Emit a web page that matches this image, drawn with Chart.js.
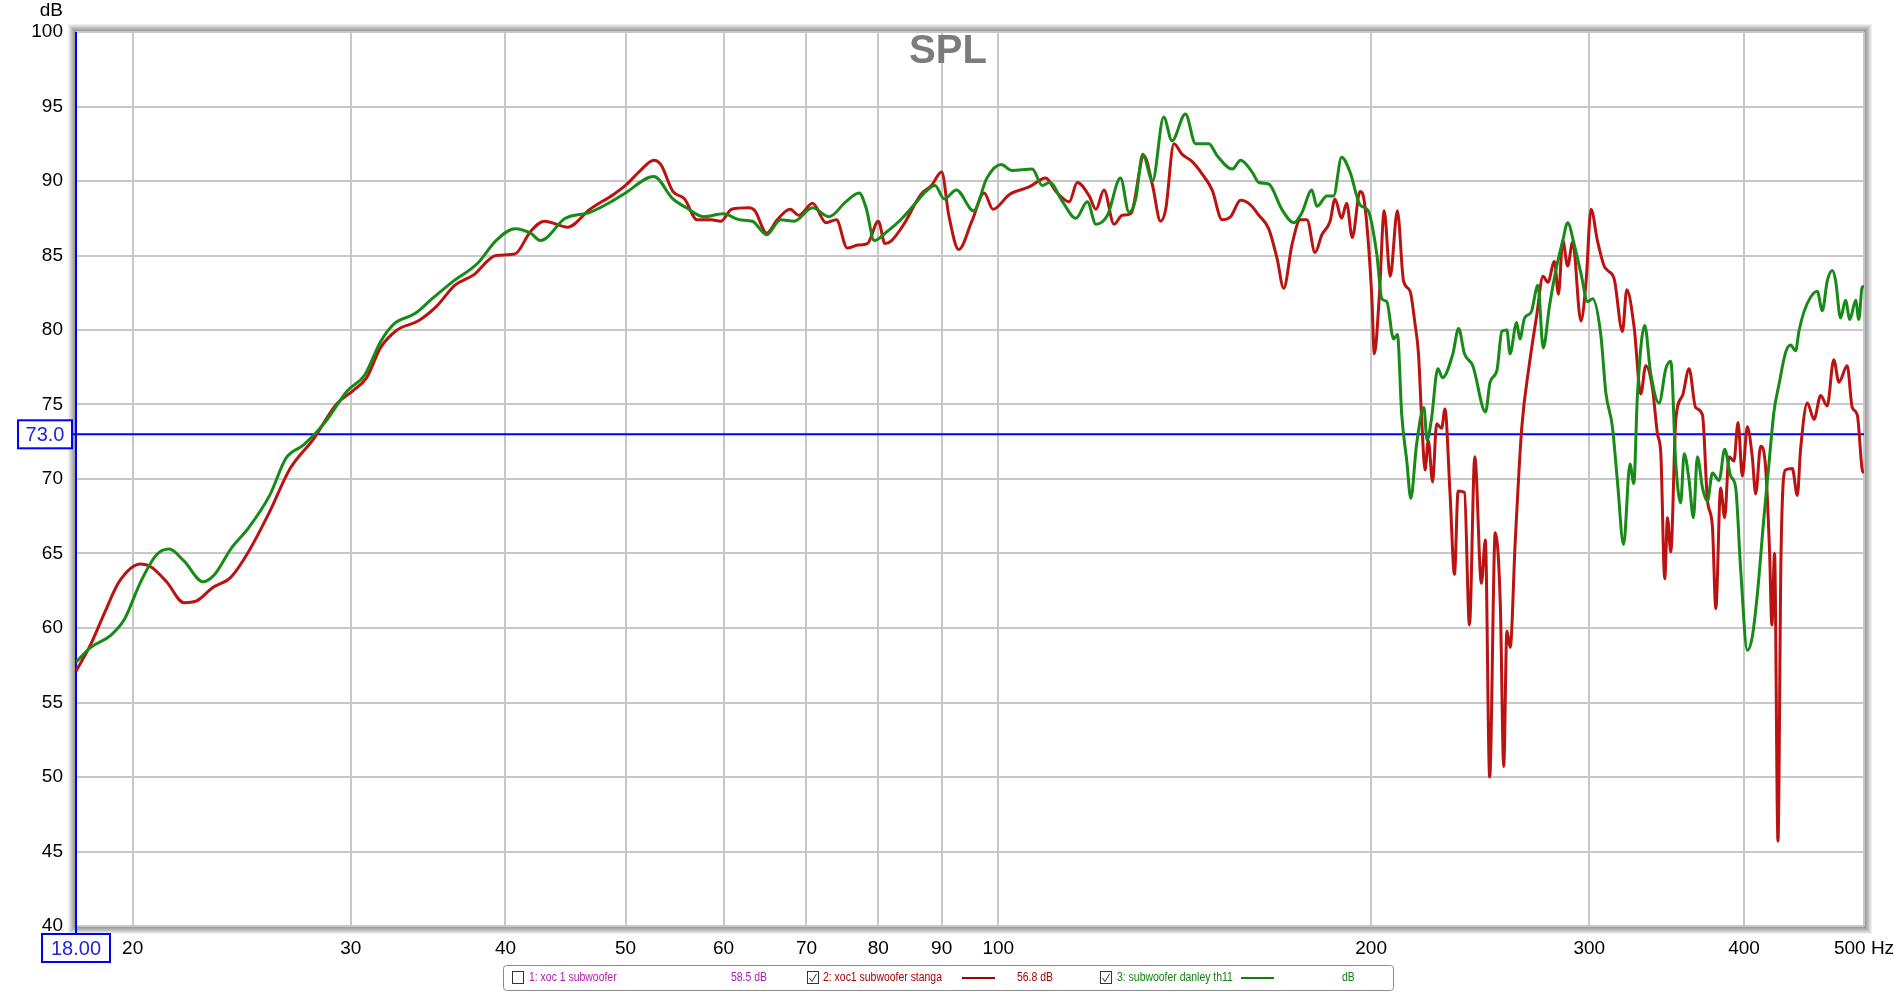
<!DOCTYPE html>
<html>
<head>
<meta charset="utf-8">
<script src="https://cdn.jsdelivr.net/npm/chart.js@4.4.1/dist/chart.umd.min.js"></script>
<style>
  html, body { margin: 0; padding: 0; background: #fff; }
  #wrap { width: 1899px; height: 992px; position: relative; }
</style>
</head>
<body>
<div id="wrap"><canvas id="spl" width="1899" height="992"></canvas></div>
<script>
// axis ticks
const xTicks = [20, 30, 40, 50, 60, 70, 80, 90, 100, 200, 300, 400, 500];
const yMin = 40, yMax = 100, yStep = 5;

// cursor readout
const cursorFreq = 18;
const cursorDb = 73;

// 2: xoc1 subwoofer stanga (red)
const redFreq = [18, 18.5, 19, 19.5, 20.3, 20.7, 21.3, 22, 22.5, 23.2, 24, 24.8, 25.8, 26.8, 28, 29.2, 30.1, 30.9, 31.7, 32.7,
  34, 35.2, 36.4, 37.7, 39.3, 40.7, 41.9, 43, 44.9, 46.8, 48.9, 50, 51.4, 52.7, 53.4, 54.6, 55.8, 57.1, 58.6, 59.7,
  60.9, 62.9, 63.6, 65, 66.3, 67.9, 69, 70.8, 72.6, 74, 75.5, 77, 78.4, 80, 81, 82, 83.9, 86.6, 88.3, 90,
  91.2, 92.9, 95.2, 97.4, 99, 102.1, 105.9, 109.2, 111.3, 114.1, 115.8, 118.4, 119.9, 121.7, 124, 125.9, 127.9, 131.1, 133.2, 135.2,
  136.5, 138.6, 140.7, 143.4, 146, 148.8, 151.6, 154, 156.9, 159.8, 162.3, 165.3, 167.9, 170, 172.6, 175.3, 177.5, 180.2, 182.5, 185.3,
  187, 189.3, 191.1, 193.1, 195.9, 197.5, 200.2, 201.2, 203.1, 204.9, 207.2, 210, 212.4, 215, 217, 218.4, 219.7, 221.1, 222.4, 224.2,
  225.9, 228, 229.4, 231.6, 233.5, 235.1, 237.9, 240.1, 242.5, 245.5, 247.3, 249.3, 251.9, 254.3, 255.9, 257.4, 259, 261.4, 264.6, 268.6,
  272, 275.3, 277.8, 281.2, 283.3, 285.6, 288.2, 290.9, 295.4, 298.2, 301, 304.6, 308.4, 310.4, 314.3, 319.1, 321.7, 326.1, 330.2, 333.2,
  337.4, 340.6, 342.7, 345.2, 347, 349.1, 352.4, 356.8, 361.2, 365.6, 370.3, 373.7, 377.2, 379.6, 383, 385.9, 389, 392.6, 395.6, 398.8,
  402.5, 406.2, 408.8, 412.6, 416.4, 419.5, 421.3, 423.4, 426.1, 428.5, 432, 437.6, 441.7, 444.4, 450, 455.6, 461.3, 466.9, 472.7, 477.2,
  484.6, 489.2, 493.8, 498.4, 500];
const redDb = [57.1, 58.9, 61.1, 63.1, 64.3, 64.1, 63.1, 61.7, 61.8, 62.7, 63.4, 65.1, 67.8, 70.7, 72.7, 75.0, 75.9, 76.8, 78.8, 80.0,
  80.6, 81.6, 83.0, 83.7, 85.0, 85.1, 86.6, 87.3, 86.9, 88.1, 89.1, 89.7, 90.7, 91.4, 91.1, 89.3, 88.8, 87.4, 87.4, 87.3,
  88.1, 88.2, 88.0, 86.5, 87.4, 88.1, 87.7, 88.5, 87.2, 87.4, 85.5, 85.7, 85.8, 87.3, 85.8, 86.0, 87.1, 89.1, 89.7, 90.6,
  87.7, 85.4, 87.3, 89.2, 88.1, 89.1, 89.6, 90.2, 89.3, 88.6, 89.9, 89.0, 88.1, 89.4, 87.1, 87.7, 87.8, 91.7, 89.7, 87.3,
  88.1, 92.5, 91.8, 91.3, 90.5, 89.4, 87.4, 87.6, 88.7, 88.4, 87.7, 86.8, 84.8, 82.8, 85.7, 87.4, 87.4, 85.2, 86.4, 87.3,
  88.8, 87.5, 88.5, 86.2, 89.3, 88.6, 82.4, 78.4, 82.4, 88.0, 83.6, 88.0, 83.3, 82.6, 80.4, 78.4, 74.0, 70.6, 72.6, 69.8,
  73.7, 73.4, 74.7, 69.0, 63.6, 69.2, 69.1, 60.2, 71.5, 63.0, 65.9, 50.0, 66.4, 61.5, 50.7, 59.8, 58.7, 65.7, 73.4, 77.9,
  80.9, 83.6, 83.2, 84.6, 82.4, 86.0, 84.3, 85.9, 80.6, 83.2, 88.1, 86.0, 84.3, 84.0, 83.4, 79.9, 82.7, 80.2, 75.7, 77.6,
  76.1, 73.0, 71.7, 63.3, 67.4, 65.1, 74.0, 75.6, 77.4, 74.8, 74.3, 68.6, 66.8, 61.3, 69.4, 67.4, 71.5, 71.2, 73.8, 70.2,
  73.5, 71.5, 69.0, 72.2, 70.8, 65.1, 60.2, 65.0, 45.7, 64.8, 70.6, 70.7, 68.9, 72.0, 75.1, 74.0, 75.6, 74.9, 78.0, 76.5,
  77.6, 74.8, 74.3, 70.6, 70.4];

// 3: subwoofer danley th11 (green)
const greenFreq = [18, 18.5, 19.2, 19.7, 20.3, 20.9, 21.4, 22, 22.8, 23.3, 24, 24.8, 25.8, 26.6, 27.5, 28.6, 29.8, 30.8, 31.7, 32.5,
  33.8, 34.9, 36.2, 38, 39.3, 40.7, 41.9, 42.7, 44.7, 46.8, 48.9, 50, 52.7, 54.6, 56, 57.8, 60, 61.8, 63.3, 65,
  66.7, 68.4, 70.8, 73, 75.3, 77.2, 78.2, 79.4, 81.3, 83.4, 85.5, 87.4, 88.9, 90.4, 92.5, 95.5, 97.9, 100.5, 102.6, 106.5,
  108.5, 110, 112.7, 115.5, 118, 119.9, 122.5, 125.5, 127.5, 129.1, 130.8, 133.2, 136, 138.1, 141.6, 144.3, 147.9, 150.2, 154.5, 156.9,
  160.3, 162.3, 165.3, 169.4, 173.2, 175.9, 179.1, 180.8, 184.2, 186.5, 189.3, 192.3, 195.9, 198.9, 202.1, 204, 205.9, 208.5, 210, 211.7,
  213.7, 215.3, 217.6, 220.6, 221.9, 223.7, 226.4, 228.4, 232.8, 235.3, 237.9, 241.6, 247.4, 249.5, 252.7, 255, 257.4, 258.9, 262.1, 263.7,
  266, 269.3, 272.7, 275.4, 278.6, 282.1, 285.6, 288.2, 291.8, 295.4, 299.1, 301.9, 306.5, 309.4, 313.2, 316.1, 319.8, 323.6, 325.9, 328.1,
  332.6, 336.3, 341.6, 345.9, 349.1, 352.4, 355.6, 357.9, 361.2, 364.1, 366.8, 370.3, 373.7, 377.2, 381.9, 385.9, 390.2, 393.9, 397.5, 402.5,
  406.2, 410, 415.1, 419, 422.9, 426.8, 432.2, 436.2, 440.3, 443, 447.1, 452.7, 458.4, 462.7, 467, 471.4, 474.3, 478.7, 483.1, 487,
  492.3, 495.2, 498.4, 500];
const greenDb = [57.7, 58.7, 59.5, 60.6, 63.1, 64.9, 65.3, 64.5, 63.1, 63.6, 65.3, 66.7, 68.9, 71.4, 72.3, 73.8, 75.9, 77.0, 79.2, 80.4,
  81.1, 82.1, 83.2, 84.5, 86.0, 86.8, 86.5, 86.0, 87.5, 87.9, 88.7, 89.2, 90.3, 88.8, 88.2, 87.6, 87.8, 87.4, 87.3, 86.4,
  87.4, 87.3, 88.2, 87.6, 88.6, 89.2, 88.2, 86.0, 86.6, 87.4, 88.4, 89.3, 89.7, 88.8, 89.4, 88.0, 90.2, 91.1, 90.7, 90.8,
  89.7, 89.9, 88.6, 87.5, 88.6, 87.1, 87.7, 90.2, 87.9, 88.8, 91.8, 90.0, 94.3, 92.7, 94.5, 92.5, 92.5, 91.7, 90.8, 91.4,
  90.6, 89.9, 89.8, 88.1, 87.2, 87.9, 89.4, 88.3, 89.0, 89.0, 91.6, 90.6, 88.4, 88.0, 85.1, 82.1, 81.9, 79.4, 79.7, 74.3,
  71.2, 68.7, 72.3, 74.8, 72.6, 74.0, 77.4, 76.8, 78.4, 80.1, 78.4, 77.6, 74.5, 76.5, 77.3, 79.9, 80.0, 78.4, 80.5, 79.4,
  80.8, 81.2, 83.0, 78.8, 81.6, 84.1, 86.0, 87.2, 85.7, 83.8, 81.9, 82.1, 79.7, 75.8, 73.5, 69.9, 65.6, 71.0, 69.7, 75.6,
  80.3, 77.1, 75.1, 77.4, 77.9, 71.0, 68.4, 71.7, 69.9, 67.4, 71.5, 69.4, 68.5, 70.4, 69.9, 72.0, 70.2, 69.4, 64.0, 58.5,
  59.4, 62.2, 67.4, 71.0, 74.5, 76.3, 78.5, 79.0, 78.6, 79.9, 81.2, 82.2, 82.6, 81.3, 83.3, 84.0, 83.3, 80.8, 82.0, 80.7,
  82.0, 80.7, 82.9, 82.9];

// legend strip
const legendLabels = ['1: xoc 1 subwoofer', '2: xoc1 subwoofer stanga', '3: subwoofer danley th11'];
const legendValues = ['58.5 dB', '56.8 dB', 'dB'];
const legendColors = ['#b018b0', '#a80000', '#118011'];
const legendChecked = [false, true, true];
const legendShowLine = [false, true, true];

const RED = '#bb1212';
const GREEN = '#178a17';
const FONT = '"Liberation Sans", Arial, sans-serif';

const toPoints = (fs, ds) => fs.map((f, i) => ({ x: f, y: ds[i] }));

// narrow text like the original app's legend font
function narrowText(ctx, text, x, y) {
    ctx.save();
    ctx.translate(x, y);
    ctx.scale(0.87, 1);
    ctx.fillText(text, 0, 0);
    ctx.restore();
}

const decorPlugin = {
    id: 'decor',
    beforeDraw(chart) {
        const { ctx, chartArea: a } = chart;
        ctx.save();
        ctx.fillStyle = '#ffffff';
        ctx.fillRect(0, 0, chart.width, chart.height);
        // shaded frame round the plot
        const shades = ['#959595', '#9e9e9e', '#a9a9a9', '#b6b6b6', '#c4c4c4', '#d3d3d3', '#e2e2e2', '#efefef'];
        shades.forEach((c, i) => {
            const o = i + 0.5;
            ctx.strokeStyle = c;
            ctx.lineWidth = 1;
            ctx.strokeRect(a.left - o, a.top - o, a.right - a.left + 2 * o, a.bottom - a.top + 2 * o);
        });
        ctx.restore();
    },
    beforeDatasetsDraw(chart) {
        const { ctx, chartArea: a, scales } = chart;
        ctx.save();
        // title
        ctx.font = 'bold 40px ' + FONT;
        ctx.fillStyle = '#7c7c7c';
        ctx.textAlign = 'center';
        ctx.textBaseline = 'middle';
        ctx.fillText('SPL', 948, 52);
        // cursor lines
        const cx = scales.x.getPixelForValue(cursorFreq);
        const cy = scales.y.getPixelForValue(cursorDb);
        ctx.strokeStyle = '#0000ff';
        ctx.lineWidth = 2;
        ctx.beginPath();
        ctx.moveTo(cx, a.top);
        ctx.lineTo(cx, a.bottom + 8);
        ctx.moveTo(a.left - 4, cy);
        ctx.lineTo(a.right, cy);
        ctx.stroke();
        ctx.restore();
    },
    afterDraw(chart) {
        const { ctx, chartArea: a, scales } = chart;
        ctx.save();
        // dB unit above y axis
        ctx.font = '19px ' + FONT;
        ctx.fillStyle = '#000';
        ctx.textAlign = 'right';
        ctx.textBaseline = 'middle';
        ctx.fillText('dB', 63, 11);

        // cursor readout boxes
        const cx = scales.x.getPixelForValue(cursorFreq);
        const cy = scales.y.getPixelForValue(cursorDb);
        ctx.font = '20px ' + FONT;
        ctx.strokeStyle = '#0000ff';
        ctx.lineWidth = 2;
        ctx.fillStyle = '#ffffff';
        ctx.fillRect(18, cy - 14, 54, 28);
        ctx.strokeRect(18, cy - 14, 54, 28);
        ctx.fillRect(cx - 34, a.bottom + 8, 68, 28);
        ctx.strokeRect(cx - 34, a.bottom + 8, 68, 28);
        ctx.fillStyle = '#2424d8';
        ctx.textAlign = 'center';
        ctx.fillText(cursorDb.toFixed(1), 45, cy + 1);
        ctx.fillText(cursorFreq.toFixed(2), cx, a.bottom + 23);

        // legend strip
        ctx.strokeStyle = '#8c8c8c';
        ctx.lineWidth = 1;
        ctx.beginPath();
        ctx.roundRect(503.5, 965.5, 890, 25, 3);
        ctx.stroke();
        const boxX = [512, 807, 1100];
        const textX = [529, 823, 1117];
        const lineX = [0, 962, 1241];
        const valX = [731, 1017, 1342];
        const my = 978;
        ctx.font = '12px ' + FONT;
        ctx.textAlign = 'left';
        ctx.textBaseline = 'middle';
        legendLabels.forEach((lab, i) => {
            ctx.strokeStyle = '#333';
            ctx.lineWidth = 1;
            ctx.strokeRect(boxX[i] + 0.5, my - 6.5, 11, 12);
            if (legendChecked[i]) {
                ctx.beginPath();
                ctx.moveTo(boxX[i] + 2.5, my);
                ctx.lineTo(boxX[i] + 5, my + 3.5);
                ctx.lineTo(boxX[i] + 9.5, my - 4);
                ctx.stroke();
            }
            ctx.fillStyle = legendColors[i];
            narrowText(ctx, lab, textX[i], my);
            narrowText(ctx, legendValues[i], valX[i], my);
            if (legendShowLine[i]) {
                ctx.strokeStyle = legendColors[i];
                ctx.lineWidth = 2;
                ctx.beginPath();
                ctx.moveTo(lineX[i], my);
                ctx.lineTo(lineX[i] + 33, my);
                ctx.stroke();
            }
        });
        ctx.restore();
    }
};

const ctx = document.getElementById('spl').getContext('2d');

new Chart(ctx, {
    type: 'line',
    data: {
        datasets: [
            {
                label: '3: subwoofer danley th11',
                data: toPoints(greenFreq, greenDb),
                borderColor: GREEN,
                borderWidth: 3,
                pointRadius: 0,
                cubicInterpolationMode: 'monotone',
                fill: false
            },
            {
                label: '2: xoc1 subwoofer stanga',
                data: toPoints(redFreq, redDb),
                borderColor: RED,
                borderWidth: 3,
                pointRadius: 0,
                cubicInterpolationMode: 'monotone',
                fill: false
            }
        ]
    },
    options: {
        responsive: false,
        animation: false,
        devicePixelRatio: 1,
        layout: { padding: { top: 32, right: 35, bottom: 0, left: 0 } },
        plugins: {
            legend: { display: false },
            tooltip: { enabled: false },
            title: { display: false }
        },
        scales: {
            x: {
                type: 'logarithmic',
                min: 18,
                max: 500,
                afterBuildTicks: scale => {
                    scale.ticks = xTicks.map(v => ({ value: v }));
                },
                afterFit: scale => {
                    scale.height = 66;
                    scale.paddingLeft = 0;
                    scale.paddingRight = 0;
                },
                ticks: {
                    autoSkip: false,
                    maxRotation: 0,
                    padding: 11,
                    color: '#000',
                    font: { family: FONT, size: 19 },
                    callback: value => value === 500 ? '500 Hz' : String(value)
                },
                grid: { color: '#c8c8c8', lineWidth: 2, drawTicks: false },
                border: { display: false }
            },
            y: {
                min: yMin,
                max: yMax,
                afterFit: scale => {
                    scale.width = 76;
                    scale.paddingTop = 0;
                    scale.paddingBottom = 0;
                },
                ticks: {
                    stepSize: yStep,
                    autoSkip: false,
                    padding: 13,
                    color: '#000',
                    font: { family: FONT, size: 19 }
                },
                grid: { color: '#c8c8c8', lineWidth: 2, drawTicks: false },
                border: { display: false }
            }
        }
    },
    plugins: [decorPlugin]
});
</script>
</body>
</html>
